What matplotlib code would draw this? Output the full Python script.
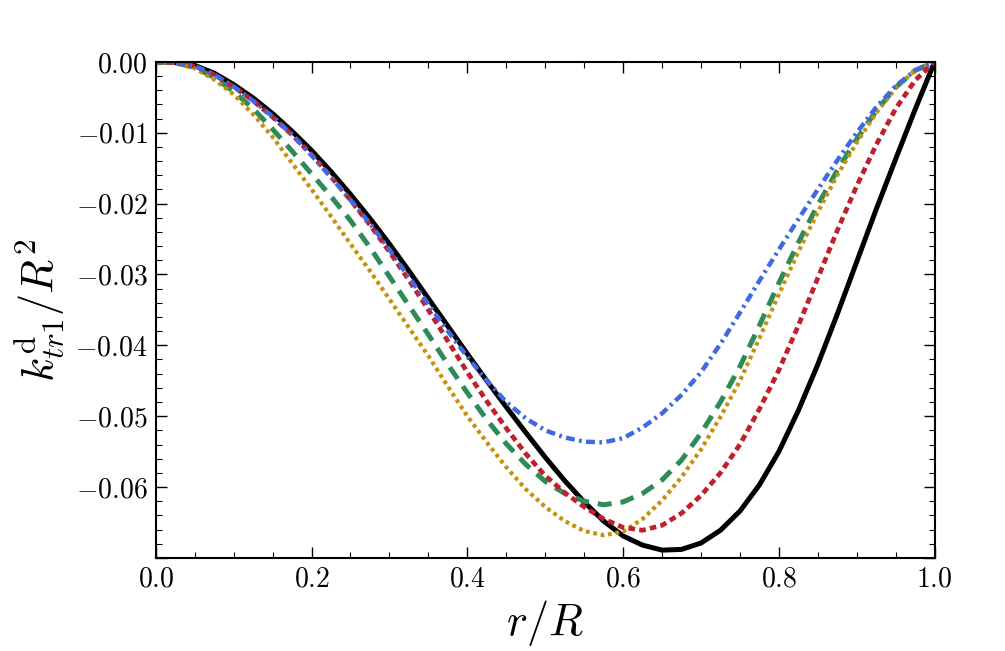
"""
Perfil k_tr1^d / R^2 em função de r/R
"""

import matplotlib
matplotlib.use('Agg')
import matplotlib.pyplot as plt
from matplotlib.ticker import MultipleLocator, FuncFormatter

plt.rcParams['mathtext.fontset'] = 'cm'
plt.rcParams['font.family'] = 'serif'
plt.rcParams['font.serif'] = ['cmr10', 'DejaVu Serif']
plt.rcParams['axes.formatter.use_mathtext'] = True

# Posições radiais r/R
r = [0.000, 0.025, 0.050, 0.075, 0.100, 0.125, 0.150, 0.175, 0.200, 0.225,
     0.250, 0.275, 0.300, 0.325, 0.350, 0.375, 0.400, 0.425, 0.450, 0.475,
     0.500, 0.525, 0.550, 0.575, 0.600, 0.625, 0.650, 0.675, 0.700, 0.725,
     0.750, 0.775, 0.800, 0.825, 0.850, 0.875, 0.900, 0.925, 0.950, 0.975,
     1.000]

k_preto = [0.0, -0.0001, -0.0005, -0.0016, -0.0032, -0.0051, -0.0073, -0.0098, -0.0125, -0.0155,
           -0.0187, -0.0221, -0.0257, -0.0295, -0.0334, -0.0373, -0.0412, -0.0450, -0.0487, -0.0523,
           -0.0558, -0.0591, -0.0621, -0.0648, -0.0669, -0.0682, -0.0689, -0.0688, -0.0679, -0.0661,
           -0.0634, -0.0597, -0.0550, -0.0492, -0.0427, -0.0356, -0.0282, -0.0208, -0.0137, -0.0067,
           0.0]

k_vermelho = [0.0, -0.0001, -0.0006, -0.0018, -0.0035, -0.0055, -0.0078, -0.0103, -0.0131, -0.0162,
              -0.0195, -0.0230, -0.0268, -0.0308, -0.0350, -0.0394, -0.0438, -0.0479, -0.0517, -0.0553,
              -0.0584, -0.0608, -0.0628, -0.0645, -0.0657, -0.0661, -0.0654, -0.0637, -0.0612, -0.0580,
              -0.0540, -0.0490, -0.0435, -0.0372, -0.0305, -0.0238, -0.0175, -0.0117, -0.0066, -0.0026,
              0.0]

k_laranja = [0.0, -0.0002, -0.0009, -0.0025, -0.0046, -0.0074, -0.0106, -0.0143, -0.0180, -0.0218,
             -0.0257, -0.0295, -0.0335, -0.0375, -0.0415, -0.0458, -0.0500, -0.0537, -0.0572, -0.0603,
             -0.0628, -0.0648, -0.0662, -0.0668, -0.0663, -0.0645, -0.0619, -0.0586, -0.0547, -0.0501,
             -0.0450, -0.0390, -0.0328, -0.0268, -0.0212, -0.0160, -0.0114, -0.0072, -0.0037, -0.0012,
             0.0]

k_verde = [0.0, -0.0001, -0.0008, -0.0022, -0.0042, -0.0066, -0.0095, -0.0126, -0.0158, -0.0190,
           -0.0224, -0.0262, -0.0303, -0.0344, -0.0385, -0.0427, -0.0467, -0.0505, -0.0539, -0.0568,
           -0.0592, -0.0609, -0.0620, -0.0625, -0.0621, -0.0609, -0.0590, -0.0562, -0.0524, -0.0480,
           -0.0430, -0.0372, -0.0312, -0.0255, -0.0202, -0.0153, -0.0109, -0.0069, -0.0036, -0.0012,
           0.0]

k_azul = [0.0, -0.0001, -0.0006, -0.0018, -0.0035, -0.0055, -0.0077, -0.0103, -0.0132, -0.0163,
          -0.0195, -0.0228, -0.0265, -0.0304, -0.0342, -0.0380, -0.0416, -0.0450, -0.0480, -0.0503,
          -0.0520, -0.0530, -0.0536, -0.0537, -0.0531, -0.0516, -0.0496, -0.0470, -0.0438, -0.0398,
          -0.0354, -0.0309, -0.0265, -0.0222, -0.0180, -0.0139, -0.0100, -0.0064, -0.0034, -0.0012,
          0.0]

fig = plt.figure(figsize=(10.05, 6.51), dpi=100)
ax = fig.add_axes([0.155, 0.143, 0.775, 0.762])

ax.plot(r, k_preto, color='black', linewidth=3.6, linestyle='-')
ax.plot(r, k_verde, color='#2e8b57', linewidth=3.6, dashes=(2.8, 1.8))
ax.plot(r, k_laranja, color='#c8900a', linewidth=3.0, dashes=(0.9, 0.9))
ax.plot(r, k_vermelho, color='#c0202a', linewidth=3.4, dashes=(1.4, 0.9))
ax.plot(r, k_azul, color='#4169e1', linewidth=3.2, dashes=(2.0, 1.0, 0.6, 1.0))

ax.set_xlim(0, 1)
ax.set_ylim(-0.07, 0)

ax.xaxis.set_major_locator(MultipleLocator(0.2))
ax.xaxis.set_minor_locator(MultipleLocator(0.05))
ax.yaxis.set_major_locator(MultipleLocator(0.01))
ax.yaxis.set_minor_locator(MultipleLocator(0.002))

def _fmt(casas, minimo):
    def f(v, _):
        if abs(v) < 1e-12:
            v = 0.0
        if v < minimo:
            return ''
        return r'$%.*f$' % (casas, v)
    return FuncFormatter(f)

ax.xaxis.set_major_formatter(_fmt(1, -1))
ax.yaxis.set_major_formatter(_fmt(2, -0.065))

ax.tick_params(which='both', direction='in', top=True, right=True, labelsize=20)
ax.tick_params(which='major', length=8, width=1.0, pad=6)
ax.tick_params(which='minor', length=4, width=0.8)
for s in ax.spines.values():
    s.set_linewidth(1.5)

ax.set_xlabel(r'$r/R$', fontsize=32, labelpad=4)
ax.set_ylabel(r'$k_{tr1}^{\rm d}/R^2$', fontsize=32, labelpad=6)

fig.savefig('out.png', dpi=100)
plt.close(fig)
